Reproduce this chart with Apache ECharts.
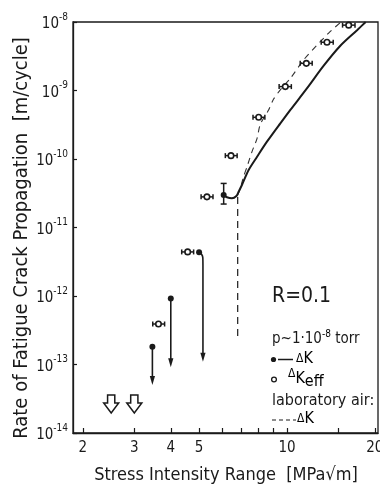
<!DOCTYPE html>
<html><head><meta charset="utf-8">
<script src="https://cdn.jsdelivr.net/npm/echarts@6/dist/echarts.min.js"></script>
<style>html,body{margin:0;padding:0;background:#fff}#c{width:380px;height:490px}</style>
</head><body><div id="c"></div>
<script>
const FONT = '"DejaVu Sans Condensed","Liberation Sans Narrow","DejaVu Sans",sans-serif';
const INK = '#1a1a1a';

// axis ticks / labels
const xLabelValues = [2, 3, 4, 5, 10, 20];
const xTickValues = [2, 3, 4, 5, 6, 7, 8, 9, 10, 15, 20];
const xTitle = 'Stress Intensity Range  [MPa\u221Am]';
const yTitle = 'Rate of Fatigue Crack Propagation  [m/cycle]';

// vacuum, open circles: ΔK_eff with horizontal scatter bars
const effK     = [3.63, 4.57, 5.32, 6.43, 8.0, 9.87, 11.65, 13.71, 16.27];
const effRate  = [3.9e-13, 4.4e-12, 2.8e-11, 1.12e-10, 4.06e-10, 1.14e-9, 2.49e-9, 5.06e-9, 9.0e-9];
const effKLow  = [3.47, 4.36, 5.08, 6.15, 7.65, 9.4, 11.1, 13.1, 15.5];
const effKHigh = [3.81, 4.79, 5.58, 6.75, 8.4, 10.35, 12.2, 14.4, 17.1];

// vacuum, filled circles: ΔK
const dkK    = [3.46, 4.0, 5.0, 6.07];
const dkRate = [1.82e-13, 9.2e-13, 4.35e-12, 2.98e-11];

// downward arrows (upper limits)
const dropK        = [3.46, 4.0, 5.155];
const dropFromRate = [1.82e-13, 9.2e-13, 2.84e-12];
const dropToRate   = [5.0e-14, 9.1e-14, 1.1e-13];

// hook from the point at ΔK = 5
const hookK    = [5.0, 5.09, 5.15, 5.155];
const hookRate = [4.35e-12, 4.1e-12, 3.6e-12, 2.84e-12];

// scatter band of the point at ΔK = 6.07
const bandK = [6.07];
const bandLow = [2.2e-11];
const bandHigh = [4.4e-11];

// vacuum ΔK curve (solid)
const vacK    = [6.07, 6.23, 6.48, 6.71, 6.83, 7.01, 7.39, 7.90, 8.54, 9.49, 10.27, 11.72, 13.36, 15.23, 17.38, 18.6];
const vacRate = [2.98e-11, 2.76e-11, 2.67e-11, 2.88e-11, 3.33e-11, 4.17e-11, 6.9e-11, 1.08e-10, 1.79e-10, 3.32e-10, 5.2e-10, 1.08e-9, 2.3e-9, 4.5e-9, 7.6e-9, 1e-8];

// laboratory air ΔK (dashed): threshold line and curve
const airThK    = [6.78, 6.78];
const airThRate = [2.6e-13, 2.98e-11];
const airK    = [6.78, 6.92, 7.10, 7.30, 7.59, 7.90, 8.10, 8.65, 9.00, 9.62, 10.27, 11.40, 12.68, 13.89, 15.3];
const airRate = [2.98e-11, 3.73e-11, 5.52e-11, 7.73e-11, 1.28e-10, 2.0e-10, 3.2e-10, 5.2e-10, 7.5e-10, 1.1e-9, 1.5e-9, 2.79e-9, 4.6e-9, 6.9e-9, 1e-8];

// hollow arrows (no growth)
const hollowK    = [2.5, 3.0];
const hollowRate = [2.65e-14, 2.65e-14];

const zip = (a, b) => a.map((v, i) => [v, b[i]]);

const chart = echarts.init(document.getElementById('c'), null, {renderer: 'canvas'});

function hBarItem(params, api) {
  const y = api.value(1);
  const p1 = api.coord([api.value(2), y]);
  const p2 = api.coord([api.value(3), y]);
  const c = 2.5, st = {stroke: INK, lineWidth: 1.5};
  return {type: 'group', children: [
    {type: 'line', shape: {x1: p1[0], y1: p1[1], x2: p2[0], y2: p2[1]}, style: st},
    {type: 'line', shape: {x1: p1[0], y1: p1[1] - c, x2: p1[0], y2: p1[1] + c}, style: st},
    {type: 'line', shape: {x1: p2[0], y1: p2[1] - c, x2: p2[0], y2: p2[1] + c}, style: st}
  ]};
}
function vBarItem(params, api) {
  const x = api.value(0);
  const p1 = api.coord([x, api.value(1)]);
  const p2 = api.coord([x, api.value(2)]);
  const c = 3, st = {stroke: INK, lineWidth: 1.5};
  return {type: 'group', children: [
    {type: 'line', shape: {x1: p1[0], y1: p1[1], x2: p2[0], y2: p2[1]}, style: st},
    {type: 'line', shape: {x1: p1[0] - c, y1: p1[1], x2: p1[0] + c, y2: p1[1]}, style: st},
    {type: 'line', shape: {x1: p2[0] - c, y1: p2[1], x2: p2[0] + c, y2: p2[1]}, style: st}
  ]};
}
function dropItem(params, api) {
  const x = api.value(0);
  const p1 = api.coord([x, api.value(1)]);
  const p2 = api.coord([x, api.value(2)]);
  const hl = 9, hw = 2.6;
  return {type: 'group', children: [
    {type: 'line', shape: {x1: p1[0], y1: p1[1], x2: p2[0], y2: p2[1] - hl + 2}, style: {stroke: INK, lineWidth: 1.6}},
    {type: 'polygon', shape: {points: [[p2[0], p2[1]], [p2[0] - hw, p2[1] - hl], [p2[0] + hw, p2[1] - hl]]}, style: {fill: INK}}
  ]};
}
function hollowItem(params, api) {
  const p = api.coord([api.value(0), api.value(1)]);
  const cx = p[0], cy = p[1];
  return {type: 'polygon', shape: {points: [
    [cx - 3.6, cy - 9], [cx + 3.6, cy - 9], [cx + 3.6, cy - 1], [cx + 7.5, cy - 1],
    [cx, cy + 9], [cx - 7.5, cy - 1], [cx - 3.6, cy - 1]
  ]}, style: {fill: '#fff', stroke: INK, lineWidth: 1.5, lineJoin: 'miter'}};
}

const LX = 272;
const option = {
  backgroundColor: '#fff',
  animation: false,
  grid: {left: 73, right: 2, top: 22, bottom: 57, containLabel: false, outerBoundsMode: 'none',
         show: true, borderColor: INK, borderWidth: 1.3, backgroundColor: 'transparent'},
  xAxis: {
    type: 'log', min: 1.85, max: 20.5,
    axisLine: {show: true, lineStyle: {color: INK, width: 1.3}},
    axisTick: {show: true, inside: true, length: 5, customValues: xTickValues, lineStyle: {color: INK, width: 1.2}},
    axisLabel: {customValues: xLabelValues, formatter: v => String(Math.round(v)), color: INK, fontSize: 15, fontFamily: FONT, margin: 8, showMaxLabel: true, showMinLabel: true},
    splitLine: {show: false}, minorTick: {show: false}
  },
  yAxis: {
    type: 'log', min: 1e-14, max: 1e-8, logBase: 10,
    axisLine: {show: true, lineStyle: {color: INK, width: 1.3}},
    axisTick: {show: true, inside: true, length: 4, lineStyle: {color: INK, width: 1.2}},
    axisLabel: {
      margin: 5, color: INK, fontFamily: FONT,
      formatter: v => '{b|10}{s|' + Math.round(Math.log10(v)) + '}',
      rich: {
        b: {fontSize: 15, fontFamily: FONT, color: INK, lineHeight: 20, verticalAlign: 'bottom'},
        s: {fontSize: 10, fontFamily: FONT, color: INK, lineHeight: 10, verticalAlign: 'top'}
      }
    },
    splitLine: {show: false}
  },
  series: [
    {type: 'line', name: 'air threshold', data: zip(airThK, airThRate), showSymbol: false, symbol: 'none',
     lineStyle: {color: INK, width: 1.2, type: [7, 5]}, z: 2},
    {type: 'line', name: 'air ΔK', data: zip(airK, airRate), showSymbol: false, symbol: 'none', smooth: 0.25,
     lineStyle: {color: '#333', width: 1.1, type: [6, 5]}, z: 2},
    {type: 'line', name: 'vacuum ΔK', data: zip(vacK, vacRate), showSymbol: false, symbol: 'none', smooth: 0.3,
     lineStyle: {color: INK, width: 2}, z: 3},
    {type: 'line', name: 'hook', data: zip(hookK, hookRate), showSymbol: false, symbol: 'none', smooth: 0.5,
     lineStyle: {color: INK, width: 1.6}, z: 3},
    {type: 'custom', name: 'drops', renderItem: dropItem, encode: {x: 0, y: [1, 2]},
     data: dropK.map((k, i) => [k, dropFromRate[i], dropToRate[i]]), z: 3},
    {type: 'custom', name: 'hollow', renderItem: hollowItem, encode: {x: 0, y: 1},
     data: zip(hollowK, hollowRate), z: 3},
    {type: 'custom', name: 'eff bars', renderItem: hBarItem, encode: {x: [0, 2, 3], y: 1},
     data: effK.map((k, i) => [k, effRate[i], effKLow[i], effKHigh[i]]), z: 4},
    {type: 'custom', name: 'band', renderItem: vBarItem, encode: {x: 0, y: [1, 2]},
     data: bandK.map((k, i) => [k, bandLow[i], bandHigh[i]]), z: 4},
    {type: 'scatter', name: 'ΔK_eff', data: zip(effK, effRate), symbol: 'circle', symbolSize: 5.5,
     itemStyle: {color: '#fff', borderColor: INK, borderWidth: 1.6, opacity: 1}, z: 5},
    {type: 'scatter', name: 'ΔK', data: zip(dkK, dkRate), symbol: 'circle', symbolSize: 6,
     itemStyle: {color: INK, opacity: 1}, z: 5}
  ],
  graphic: [
    {type: 'text', x: 22, y: 238, rotation: Math.PI / 2,
     style: {text: yTitle, fontSize: 20, fontFamily: FONT, fill: INK, align: 'center', verticalAlign: 'middle'}},
    {type: 'text', x: 226, y: 475,
     style: {text: xTitle, fontSize: 18, fontFamily: FONT, fill: INK, align: 'center', verticalAlign: 'middle'}},
    {type: 'text', x: LX, y: 297,
     style: {text: 'R=0.1', fontSize: 21, fontFamily: FONT, fill: INK, align: 'left', verticalAlign: 'middle'}},
    {type: 'text', x: LX, y: 338,
     style: {text: '{a|p~1\u00B710}{s|-8}{a| torr}', align: 'left', verticalAlign: 'middle',
       rich: {a: {fontSize: 15, fontFamily: FONT, fill: INK, color: INK, lineHeight: 18, verticalAlign: 'bottom'},
              s: {fontSize: 10, fontFamily: FONT, color: INK, lineHeight: 10, verticalAlign: 'top'}}}},
    {type: 'circle', shape: {cx: 273.5, cy: 359.5, r: 2.6}, style: {fill: INK}},
    {type: 'line', shape: {x1: 278, y1: 359.5, x2: 293, y2: 359.5}, style: {stroke: INK, lineWidth: 1.5}},
    {type: 'text', x: 296, y: 359,
     style: {text: '{d|\u0394}{k|K}', align: 'left', verticalAlign: 'middle',
       rich: {d: {fontSize: 12, fontFamily: FONT, color: INK}, k: {fontSize: 16, fontFamily: FONT, color: INK}}}},
    {type: 'circle', shape: {cx: 274, cy: 379.5, r: 2.4}, style: {fill: '#fff', stroke: INK, lineWidth: 1.3}},
    {type: 'text', x: 288, y: 379,
     style: {text: '{d|\u0394}{k|K}{e|eff}', align: 'left', verticalAlign: 'middle',
       rich: {d: {fontSize: 12, fontFamily: FONT, color: INK, lineHeight: 22, verticalAlign: 'top'},
              k: {fontSize: 16, fontFamily: FONT, color: INK, lineHeight: 22, verticalAlign: 'middle'},
              e: {fontSize: 16, fontFamily: FONT, color: INK, lineHeight: 16, verticalAlign: 'bottom', padding: [6, 0, 0, 0]}}}},
    {type: 'text', x: LX, y: 401,
     style: {text: 'laboratory air:', fontSize: 16, fontFamily: FONT, fill: INK, align: 'left', verticalAlign: 'middle'}},
    {type: 'line', shape: {x1: 272, y1: 420, x2: 296, y2: 420}, style: {stroke: INK, lineWidth: 1.2, lineDash: [4, 3]}},
    {type: 'text', x: 297, y: 419,
     style: {text: '{d|\u0394}{k|K}', align: 'left', verticalAlign: 'middle',
       rich: {d: {fontSize: 12, fontFamily: FONT, color: INK}, k: {fontSize: 16, fontFamily: FONT, color: INK}}}}
  ]
};
chart.setOption(option);
</script>
</body></html>
